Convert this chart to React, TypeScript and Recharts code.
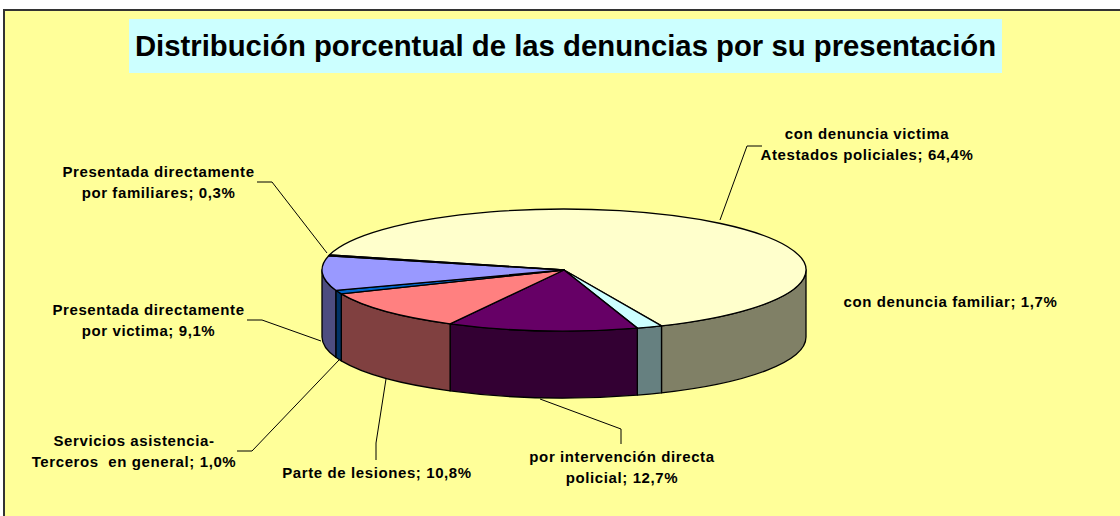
import React from 'react';
import { PieChart, Pie, Cell } from 'recharts';

// Shares of each complaint type, in drawing order (clockwise)
const CATEGORIES = [
  'con denuncia victima\nAtestados policiales',
  'con denuncia familiar',
  'por intervención directa\npolicial',
  'Parte de lesiones',
  'Servicios asistencia-\nTerceros  en general',
  'Presentada directamente\npor victima',
  'Presentada directamente\npor familiares',
];
const VALUES = [64.4, 1.7, 12.7, 10.8, 1.0, 9.1, 0.3];
const TOP_COLORS = ['#FFFFCC', '#CCFFFF', '#660066', '#FF8080', '#0066CC', '#9999FF', '#000080'];
const SIDE_COLORS = ['#808066', '#668080', '#330033', '#804040', '#003366', '#4D4D80', '#000040'];

const TITLE = 'Distribución porcentual de las denuncias por su presentación';

const data = CATEGORIES.map((name, i) => ({ name, value: VALUES[i] }));

// Label placement: centre x, first baseline, leader line
const LABEL_POS = [
  { x: 867, y: 139, line: '720,220 747,146 762,146' },
  { x: 950.5, y: 307, line: '' },
  { x: 622, y: 462, line: '540,399 621,429 621,444' },
  { x: 377, y: 478, line: '386,379 376,443 376,460' },
  { x: 134, y: 446, line: '339,360 252,451 237,451' },
  { x: 148.5, y: 315, line: '321,341 262,320 247,320' },
  { x: 158.5, y: 177, line: '327,253 272,182 257,182' },
];

const SQUASH = 0.252;
const DEPTH = 67;
const RAD = Math.PI / 180;

// Draws one slice as a flattened top face plus the visible part of its rim
const Slice3D = (props: any) => {
  const { cx, cy, outerRadius, startAngle, endAngle, index } = props;
  const rx = outerRadius;
  const ry = outerRadius * SQUASH;
  const pt = (a: number, dy = 0) =>
    `${cx + rx * Math.cos(a * RAD)} ${cy - ry * Math.sin(a * RAD) + dy}`;
  const hi = Math.max(startAngle, endAngle);
  const lo = Math.min(startAngle, endAngle);
  const large = hi - lo > 180 ? 1 : 0;
  const wallHi = Math.min(hi, 0);
  const wallLo = Math.max(lo, -180);
  return (
    <g>
      {wallHi > wallLo && (
        <path
          d={`M${pt(wallHi)} A${rx} ${ry} 0 0 1 ${pt(wallLo)} L${pt(wallLo, DEPTH)} A${rx} ${ry} 0 0 0 ${pt(wallHi, DEPTH)} Z`}
          fill={SIDE_COLORS[index]}
          stroke="#000"
          strokeWidth={1.3}
          strokeLinejoin="round"
        />
      )}
      <path
        d={`M${cx} ${cy} L${pt(hi)} A${rx} ${ry} 0 ${large} 1 ${pt(lo)} Z`}
        fill={TOP_COLORS[index]}
        stroke="#000"
        strokeWidth={1.3}
        strokeLinejoin="round"
      />
    </g>
  );
};

const SliceLabel = (props: any) => {
  const { index, name, value } = props;
  const pos = LABEL_POS[index];
  const lines = String(name).split('\n');
  const pct = Number(value).toFixed(1).replace('.', ',');
  lines[lines.length - 1] += `; ${pct}%`;
  return (
    <g>
      {pos.line && <polyline points={pos.line} fill="none" stroke="#000" strokeWidth={1} />}
      {lines.map((t, i) => (
        <text
          key={i}
          x={pos.x}
          y={pos.y + i * 21}
          textAnchor="middle"
          xmlSpace="preserve"
          style={{
            fontFamily: '"Liberation Sans", Arial, sans-serif',
            fontWeight: 700,
            fontSize: 15,
            letterSpacing: 0.6,
            fill: '#000',
            whiteSpace: 'pre',
          }}
        >
          {t}
        </text>
      ))}
    </g>
  );
};

export default function App() {
  return (
    <div style={{ position: 'absolute', left: 0, top: 0, width: 1120, height: 516, overflow: 'hidden', background: '#fff' }}>
      <div
        style={{
          position: 'absolute',
          left: 3,
          top: 9,
          width: 1130,
          height: 520,
          background: '#FFFF99',
          border: '2px solid #333',
          boxSizing: 'border-box',
        }}
      />
      <div
        style={{
          position: 'absolute',
          left: 129,
          top: 19,
          width: 873,
          height: 54,
          background: '#CCFFFF',
          color: '#000',
          fontFamily: '"Liberation Sans", Arial, sans-serif',
          fontWeight: 700,
          fontSize: 29.3,
          lineHeight: '53px',
          textAlign: 'center',
          whiteSpace: 'nowrap',
        }}
      >
        {TITLE}
      </div>
      <div style={{ position: 'absolute', left: 0, top: 0 }}>
        <PieChart width={1120} height={516} margin={{ top: 0, right: 0, bottom: 0, left: 0 }}>
          <Pie
            data={data}
            dataKey="value"
            nameKey="name"
            cx={564}
            cy={270}
            innerRadius={0}
            outerRadius={242}
            startAngle={165.6}
            endAngle={-194.4}
            paddingAngle={0}
            stroke="none"
            shape={Slice3D}
            label={SliceLabel}
            labelLine={false}
            isAnimationActive={false}
          >
            {data.map((entry, index) => (
              <Cell key={`cell-${index}`} fill={TOP_COLORS[index]} />
            ))}
          </Pie>
        </PieChart>
      </div>
    </div>
  );
}
